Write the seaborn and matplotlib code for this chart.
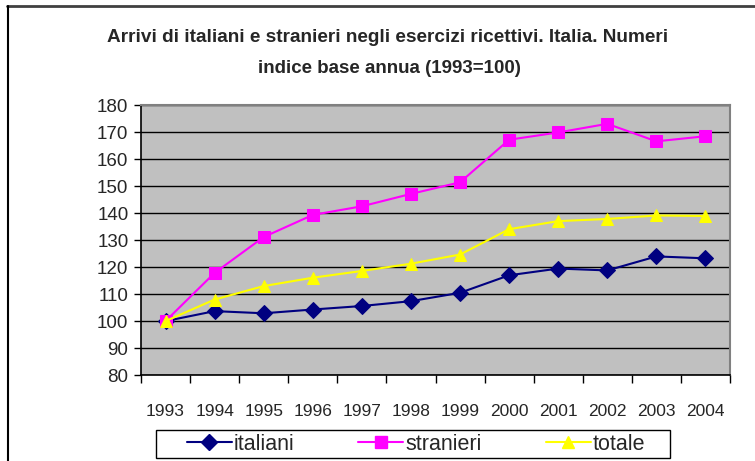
import matplotlib
matplotlib.use("Agg")
import matplotlib.pyplot as plt
from matplotlib.lines import Line2D
from matplotlib.patches import Rectangle
import pandas as pd
import seaborn as sns

years = ["1993", "1994", "1995", "1996", "1997", "1998",
         "1999", "2000", "2001", "2002", "2003", "2004"]
italiani = [100, 103.7, 102.9, 104.3, 105.6, 107.4, 110.5, 117.0, 119.5, 118.8, 124.0, 123.3]
stranieri = [100, 117.9, 131.2, 139.4, 142.6, 147.2, 151.5, 167.3, 170.0, 173.2, 166.7, 168.6]
totale = [100, 108.0, 113.0, 116.1, 118.6, 121.3, 124.7, 134.1, 137.1, 137.9, 139.2, 139.0]

series = ["italiani", "stranieri", "totale"]
colors = {"italiani": "#000080", "stranieri": "#FF00FF", "totale": "#FFFF00"}
markers = {"italiani": "D", "stranieri": "s", "totale": "^"}

df = pd.DataFrame({"anno": years * 3,
                   "valore": italiani + stranieri + totale,
                   "serie": [s for s in series for _ in years]})
df["pos"] = df["anno"].map({y: i for i, y in enumerate(years)})

sns.set_style("white")
plt.rcParams["font.family"] = ["Liberation Sans", "DejaVu Sans"]

W, H = 755, 461
fig = plt.figure(figsize=(W / 100, H / 100), dpi=100)
ax = fig.add_axes([141 / W, 1 - 375 / H, 589 / W, 269.5 / H])
ax.set_facecolor("#C0C0C0")

sns.lineplot(data=df, x="pos", y="valore", hue="serie", style="serie",
             palette=colors, markers=markers, dashes=False, markersize=8,
             markeredgecolor=None, linewidth=1.5, legend=False, ax=ax)
for ln, s in zip(ax.lines, series):
    ln.set_markeredgecolor(colors[s])

ax.set_ylim(80, 180)
ax.set_yticks(range(80, 181, 10))
ax.set_xlim(-0.5, len(years) - 0.5)
ax.set_xticks([i - 0.5 for i in range(len(years) + 1)])
ax.set_xticklabels([])
ax.set_xticks(range(len(years)), minor=True)
ax.set_xticklabels(years, minor=True)
ax.tick_params(axis="x", which="major", direction="out", length=6, width=1, color="black", bottom=True)
ax.tick_params(axis="x", which="minor", length=0, pad=21, labelsize=12.5)
ax.tick_params(axis="y", direction="out", length=5, width=1, color="black", left=True, pad=4, labelsize=13.5)
ax.yaxis.grid(True, color="black", linewidth=1)
ax.set_axisbelow(True)
ax.set_xlabel("")
ax.set_ylabel("")
for side in ["left", "bottom"]:
    ax.spines[side].set_color("black")
    ax.spines[side].set_linewidth(1.2)
for side in ["top", "right"]:
    ax.spines[side].set_color("#808080")
    ax.spines[side].set_linewidth(1.5)

fig.text(388 / W, 1 - 37 / H, "Arrivi di italiani e stranieri negli esercizi ricettivi. Italia. Numeri",
         ha="center", va="center", fontsize=13.7, fontweight="bold")
fig.text(389 / W, 1 - 68 / H, "indice base annua (1993=100)",
         ha="center", va="center", fontsize=13.5, fontweight="bold")

# legend box drawn separately so its padding matches the original
fig.add_artist(Rectangle((156 / W, 1 - 458 / H), 514 / W, 28 / H, transform=fig.transFigure,
                         facecolor="white", edgecolor="black", linewidth=1))
handles = [Line2D([], [], color=colors[s], marker=markers[s], markersize=8,
                  markeredgecolor=colors[s], linewidth=1.5) for s in series]
leg = fig.legend(handles, series, loc="center", bbox_to_anchor=(416 / W, 1 - 444 / H),
                 ncol=3, frameon=False, fontsize=15.5, handlelength=2.1,
                 columnspacing=2.95, handletextpad=0.1, borderpad=0.1, borderaxespad=0)

fig.add_artist(Line2D([7 / W, 1], [1 - 6.5 / H, 1 - 6.5 / H], color="#404040", linewidth=2))
fig.add_artist(Line2D([7.5 / W, 7.5 / W], [0, 1 - 6 / H], color="black", linewidth=1.5))

fig.savefig("out.png", dpi=100)
